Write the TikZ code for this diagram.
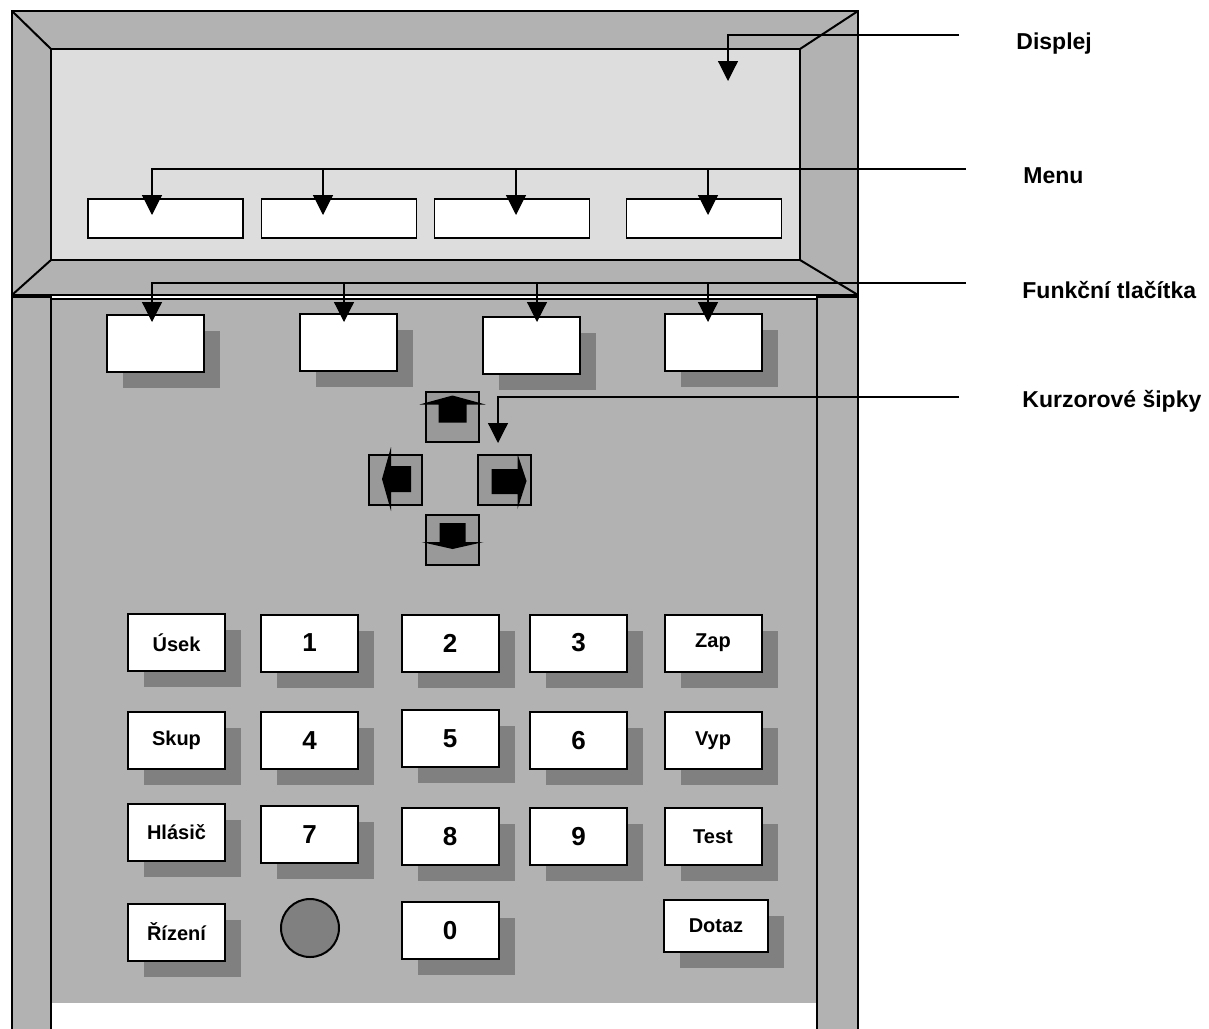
\documentclass[tikz,border=0pt]{standalone}
\usepackage{fontspec}
\setmainfont{Liberation Sans}
\usetikzlibrary{arrows.meta, shadows, calc}
\definecolor{framegray}{HTML}{B2B2B2}
\definecolor{dispgray}{HTML}{DDDDDD}
\definecolor{shadegray}{HTML}{808080}
\definecolor{cursorgray}{HTML}{999999}

\begin{document}
\begin{tikzpicture}[x=0.5pt, y=-0.5pt,
    key/.style={draw, line width=1pt, fill=white, minimum width=48.5pt, minimum height=28.5pt, inner sep=0pt,
                drop shadow={shadow xshift=8pt, shadow yshift=-8pt, fill=shadegray, opacity=1}},
    numkey/.style={key, font=\fontsize{13}{15}\selectfont\bfseries},
    wordkey/.style={key, font=\fontsize{10}{12}\selectfont\bfseries},
    menubox/.style={draw, line width=0.8pt, fill=white, minimum width=77.5pt, minimum height=19.5pt, inner sep=0pt},
    cursorkey/.style={draw, line width=1pt, fill=cursorgray, minimum width=26.5pt, minimum height=25pt, inner sep=0pt},
    lead/.style={line width=0.6pt, -{Triangle[width=10pt, length=10pt]}},
    tag/.style={anchor=base west, inner sep=0pt, font=\fontsize{11.5}{14}\selectfont\bfseries}]
  \clip (0,0) rectangle (1209,1028);
  \fill[white] (0,0) rectangle (1209,1028);

  % display frame
  \draw[line width=1pt, fill=framegray] (12,11) rectangle (858,295);
  \draw[line width=1pt, fill=dispgray] (51,49) rectangle (800,260);
  \draw[line width=1pt] (12,11) -- (51,49) (858,11) -- (800,49)
                        (51,260) -- (12,295) (800,260) -- (858,295);

  % keyboard body
  \fill[framegray] (51,299) rectangle (817,1003);
  \draw[line width=1pt] (51,299) -- (817,299);
  \draw[line width=1pt, fill=framegray] (12,1040) -- (12,297) -- (51,297) -- (51,1040);
  \draw[line width=1pt, fill=framegray] (817,1040) -- (817,297) -- (858,297) -- (858,1040);

  % menu fields
  \node[menubox] (m1) at (165.5,218.5) {};
  \node[menubox] (m2) at (339,218.5) {};
  \node[menubox] (m3) at (512,218.5) {};
  \node[menubox] (m4) at (704,218.5) {};

  % function keys
  \node[key] (f1) at (155.5,343) {};
  \node[key] (f2) at (348.5,342) {};
  \node[key] (f3) at (531.5,345) {};
  \node[key] (f4) at (713.5,342) {};

  % cursor keys
  \node[cursorkey] (up) at (452.5,416.5) {};
  \node[cursorkey] (left) at (395,480) {};
  \node[cursorkey] (right) at (504.5,480) {};
  \node[cursorkey] (down) at (452.5,540) {};
  \fill[shift={(up)}] (-14,6) -- (14,6) -- (14,-12) -- (33,-12) -- (0,-21) -- (-33,-12) -- (-14,-12) -- cycle;
  \fill[shift={(down)}] (-13,-17) -- (13,-17) -- (13,2) -- (31,2) -- (0,9) -- (-31,2) -- (-13,2) -- cycle;
  \fill[shift={(left)}] (16,-14) -- (-4,-14) -- (-4,-33) -- (-13,-1) -- (-4,31) -- (-4,12) -- (16,12) -- cycle;
  \fill[shift={(right)}] (-13,-11) -- (13,-11) -- (13,-26) -- (22,1) -- (13,29) -- (13,14) -- (-13,14) -- cycle;

  % keypad
  \node[wordkey] (usek) at (176.5,642.5) {Úsek};
  \node[wordkey] (skup) at (176.5,740.5) {Skup};
  \node[wordkey] (hlasic) at (176.5,832) {Hlásič};
  \node[wordkey] (rizeni) at (176.5,932) {Řízení};
  \node[numkey] (k1) at (309.5,643) {1};
  \node[numkey] (k4) at (309.5,740.5) {4};
  \node[numkey] (k7) at (309.5,834.5) {7};
  \node[numkey] (k2) at (450,643) {2};
  \node[numkey] (k5) at (450,738.5) {5};
  \node[numkey] (k8) at (450,836.5) {8};
  \node[numkey] (k0) at (450,930.5) {0};
  \node[numkey] (k3) at (578.5,643) {3};
  \node[numkey] (k6) at (578.5,740.5) {6};
  \node[numkey] (k9) at (578.5,836.5) {9};
  \node[wordkey] (zap) at (713,643) {Zap};
  \node[wordkey] (vyp) at (713,740.5) {Vyp};
  \node[wordkey] (test) at (713,836.5) {Test};
  \node[wordkey, minimum width=52pt, minimum height=26pt] (dotaz) at (716,926) {Dotaz};
  \node[circle, draw, line width=1pt, fill=shadegray, minimum size=29pt, inner sep=0pt] (dot) at (310,928) {};

  % labels and leaders
  \node[tag] (displej) at (1016,49) {Displej};
  \node[tag] (menu) at (1023,183) {Menu};
  \node[tag] (funkce) at (1022,298) {Funkční tlačítka};
  \node[tag] (kurzor) at (1022,407) {Kurzorové šipky};

  \coordinate (dispR) at (959,35);
  \coordinate (menuR) at (966,169);
  \coordinate (funkR) at (966,283);
  \coordinate (kurzR) at (959,397);
  \coordinate (dispT) at (728,81);
  \coordinate (kurzT) at (498,443);
  \coordinate (mt1) at (152,215);
  \coordinate (mt2) at (323,215);
  \coordinate (mt3) at (516,215);
  \coordinate (mt4) at (708,215);
  \coordinate (ft1) at (152,322);
  \coordinate (ft2) at (344,322);
  \coordinate (ft3) at (537,322);
  \coordinate (ft4) at (708,322);

  \draw[lead] (dispR) -| (dispT);
  \draw[lead] (menuR) -| (mt1);
  \foreach \t in {mt2,mt3,mt4}
    \draw[lead] (\t |- menuR) -- (\t);
  \draw[lead] (funkR) -| (ft1);
  \foreach \t in {ft2,ft3,ft4}
    \draw[lead] (\t |- funkR) -- (\t);
  \draw[lead] (kurzR) -| (kurzT);
\end{tikzpicture}
\end{document}
